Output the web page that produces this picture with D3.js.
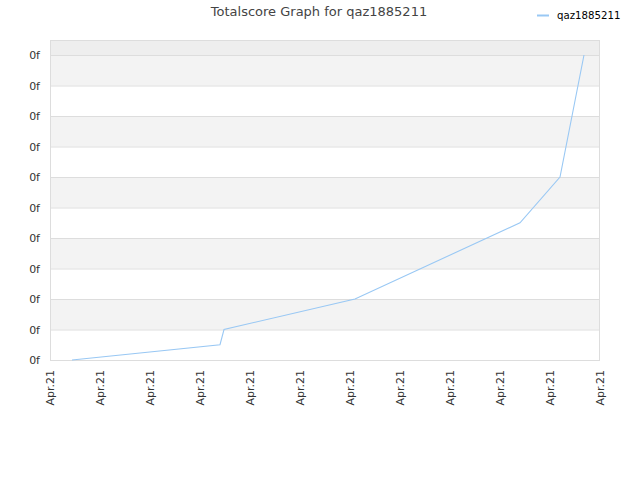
<!DOCTYPE html>
<html><head><meta charset="utf-8">
<script src="https://cdn.jsdelivr.net/npm/d3@7/dist/d3.min.js"></script>
<style>body{margin:0;background:#fff;}svg{display:block;font-family:"DejaVu Sans",Verdana,sans-serif;}</style>
</head><body>
<svg id="c" width="640" height="480"></svg>
<script>
const title = "Totalscore Graph for qaz1885211";
const seriesName = "qaz1885211";
const xTickLabels = ["Apr.21","Apr.21","Apr.21","Apr.21","Apr.21","Apr.21","Apr.21","Apr.21","Apr.21","Apr.21","Apr.21","Apr.21"];
const yTickLabels = ["0f","0f","0f","0f","0f","0f","0f","0f","0f","0f","0f"];
const xValues = [0.44, 3.4, 3.48, 6.1, 9.4, 10.2, 10.68];
const yValues = [0, 0.5, 1, 2, 4.5, 6, 10];

const svg = d3.select("#c");
const m = {l:50, r:600, t:40, b:360};
const x = d3.scaleLinear().domain([0, 11]).range([m.l, m.r]);
const y = d3.scaleLinear().domain([0, 10]).range([m.b, 55]);

svg.append("rect").attr("x", m.l).attr("y", m.t).attr("width", m.r-m.l).attr("height", y(10)-m.t).attr("fill", "#eeeeee");
for (let i = 0; i < 10; i++) {
  svg.append("rect").attr("x", m.l).attr("y", y(i+1)).attr("width", m.r-m.l).attr("height", y(i)-y(i+1))
    .attr("fill", (i % 2 === 1) ? "#f3f3f3" : "#ffffff");
}
const yTicks = d3.range(0, 11);
svg.append("g").selectAll("line").data(yTicks).join("line")
  .attr("x1", m.l).attr("x2", m.r).attr("y1", d => y(d)+0.5).attr("y2", d => y(d)+0.5)
  .attr("stroke", "#dddddd").attr("stroke-width", 1);
svg.append("rect").attr("x", m.l+0.5).attr("y", m.t+0.5).attr("width", m.r-m.l-1).attr("height", m.b-m.t)
  .attr("fill", "none").attr("stroke", "#dddddd");

const yAxis = d3.axisLeft(y).tickValues(yTicks).tickSize(0).tickPadding(10).tickFormat((d,i) => yTickLabels[i]);
const ya = svg.append("g").attr("transform", `translate(${m.l},0)`).call(yAxis);
ya.select(".domain").remove();
ya.selectAll("text").attr("fill", "#333").style("font-size", "11px").style("font-family", "DejaVu Sans, sans-serif");

const xTicks = d3.range(0, 12);
const xAxis = d3.axisBottom(x).tickValues(xTicks).tickSize(0).tickFormat((d,i) => xTickLabels[i]);
const xa = svg.append("g").attr("transform", `translate(0,${m.b})`).call(xAxis);
xa.select(".domain").remove();
xa.selectAll("text").attr("fill", "#333").style("font-size", "11px").style("font-family", "DejaVu Sans, sans-serif")
  .attr("text-anchor", "end").attr("transform", "rotate(-90)").attr("x", -10).attr("y", 0).attr("dy", "0.35em");

const pts = xValues.map((v, i) => [v, yValues[i]]);
svg.append("path").datum(pts)
  .attr("d", d3.line().x(d => x(d[0])).y(d => y(d[1])))
  .attr("fill", "none").attr("stroke", "#99c8f4").attr("stroke-width", 1.1);

svg.append("text").attr("x", 319).attr("y", 16).attr("text-anchor", "middle")
  .style("font-size", "13px").attr("fill", "#444").text(title);
svg.append("line").attr("x1", 537).attr("x2", 549).attr("y1", 15.5).attr("y2", 15.5).attr("stroke", "#99c8f4").attr("stroke-width", 2);
svg.append("text").attr("x", 557).attr("y", 18.5).style("font-size", "10.2px").attr("fill", "#000").text(seriesName);
</script>
</body></html>
